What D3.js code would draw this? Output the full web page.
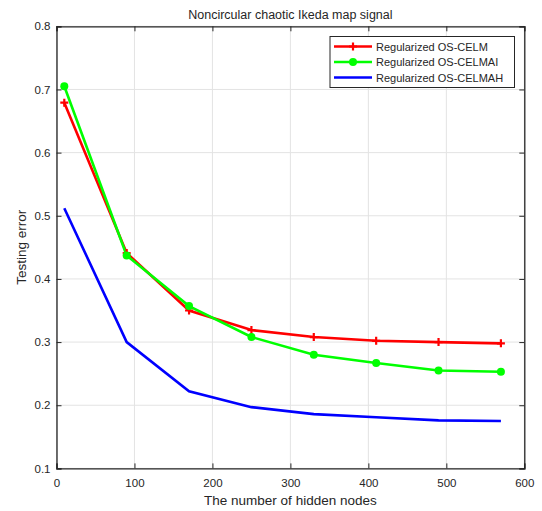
<!DOCTYPE html>
<html>
<head>
<meta charset="utf-8">
<script src="https://cdn.jsdelivr.net/npm/d3@7"></script>
<style>
  body { margin: 0; background: #fff; }
  text { font-family: Arial, "Liberation Sans", sans-serif; fill: #262626; }
</style>
</head>
<body>
<div id="chart"></div>
<script>
'use strict';

// Data
const hiddenNodes = [10, 90, 170, 250, 330, 410, 490, 570];
const celm   = [0.679, 0.441, 0.350, 0.319, 0.308, 0.302, 0.300, 0.298];
const celmai = [0.705, 0.437, 0.357, 0.308, 0.280, 0.267, 0.255, 0.253];
const celmah = [0.512, 0.300, 0.222, 0.197, 0.186, 0.181, 0.176, 0.175];
const seriesNames = ["Regularized OS-CELM", "Regularized OS-CELMAI", "Regularized OS-CELMAH"];
const xTicks = [0, 100, 200, 300, 400, 500, 600];
const yTicks = [0.1, 0.2, 0.3, 0.4, 0.5, 0.6, 0.7, 0.8];

const width = 542, height = 511;
const margin = {top: 26.3, left: 56.5, right: 17.7, bottom: 42.6};
const w = width - margin.left - margin.right;
const h = height - margin.top - margin.bottom;

const svg = d3.select("#chart").append("svg")
  .attr("width", width)
  .attr("height", height);
const g = svg.append("g")
  .attr("transform", `translate(${margin.left},${margin.top})`);

const x = d3.scaleLinear().domain([0, 600]).range([0, w]);
const y = d3.scaleLinear().domain([0.1, 0.8]).range([h, 0]);

// grid
g.append("g").selectAll("line").data(xTicks).join("line")
  .attr("x1", d => x(d)).attr("x2", d => x(d))
  .attr("y1", 0).attr("y2", h)
  .attr("stroke", "#e3e3e3").attr("stroke-width", 1);
g.append("g").selectAll("line").data(yTicks).join("line")
  .attr("y1", d => y(d)).attr("y2", d => y(d))
  .attr("x1", 0).attr("x2", w)
  .attr("stroke", "#e3e3e3").attr("stroke-width", 1);

// axes (ticks inward, box style)
const tickLen = 5;
const xAxis = g.append("g").attr("transform", `translate(0,${h})`)
  .call(d3.axisBottom(x).tickValues(xTicks).tickSize(-tickLen).tickPadding(10).tickFormat(d3.format("d")));
const xTop = g.append("g")
  .call(d3.axisTop(x).tickValues(xTicks).tickSize(-tickLen).tickFormat(""));
const yAxis = g.append("g")
  .call(d3.axisLeft(y).tickValues(yTicks).tickSize(-tickLen).tickPadding(6).tickFormat(d3.format(".1f")));
const yRight = g.append("g").attr("transform", `translate(${w},0)`)
  .call(d3.axisRight(y).tickValues(yTicks).tickSize(-tickLen).tickFormat(""));
[xAxis, xTop, yAxis, yRight].forEach(a => {
  a.select(".domain").attr("stroke", "#262626").attr("stroke-width", 1.3);
  a.selectAll(".tick line").attr("stroke", "#262626");
  a.selectAll(".tick text").style("font-size", "11.5px").attr("fill", "#262626")
    .style("font-family", "Arial, 'Liberation Sans', sans-serif");
});

// lines
const line = d3.line().x((d, i) => x(hiddenNodes[i])).y(d => y(d));
const colors = ["#ff0000", "#00ff00", "#0000ff"];
[celm, celmai, celmah].forEach((s, k) => {
  g.append("path").datum(s)
    .attr("fill", "none")
    .attr("stroke", colors[k])
    .attr("stroke-width", 2.6)
    .attr("d", line);
});

// markers
g.append("g").selectAll("path").data(celm).join("path")
  .attr("transform", (d, i) => `translate(${x(hiddenNodes[i])},${y(d)})`)
  .attr("d", "M-4,0H4M0,-4V4")
  .attr("stroke", colors[0]).attr("stroke-width", 2.2);
g.append("g").selectAll("circle").data(celmai).join("circle")
  .attr("cx", (d, i) => x(hiddenNodes[i]))
  .attr("cy", d => y(d))
  .attr("r", 4)
  .attr("fill", colors[1]);

// title & labels
svg.append("text")
  .attr("x", margin.left + w / 2).attr("y", 19)
  .attr("text-anchor", "middle")
  .style("font-size", "12.5px")
  .attr("fill", "#000")
  .text("Noncircular chaotic Ikeda map signal");
svg.append("text")
  .attr("x", margin.left + w / 2).attr("y", 505)
  .attr("text-anchor", "middle")
  .style("font-size", "13.5px")
  .text("The number of hidden nodes");
svg.append("text")
  .attr("transform", `translate(26,${margin.top + h / 2}) rotate(-90)`)
  .attr("text-anchor", "middle")
  .style("font-size", "13.5px")
  .text("Testing error");

// legend
const legend = svg.append("g").attr("transform", "translate(330,36.5)");
legend.append("rect")
  .attr("width", 184.5).attr("height", 51)
  .attr("fill", "#fff").attr("stroke", "#262626").attr("stroke-width", 1);
seriesNames.forEach((name, k) => {
  const ly = 10 + k * 15.5;
  legend.append("line")
    .attr("x1", 4).attr("x2", 42).attr("y1", ly).attr("y2", ly)
    .attr("stroke", colors[k]).attr("stroke-width", 2.6);
  if (k === 0) {
    legend.append("path").attr("d", `M23,${ly - 4}V${ly + 4}M19,${ly}H27`)
      .attr("stroke", colors[0]).attr("stroke-width", 2.2);
  } else if (k === 1) {
    legend.append("circle").attr("cx", 23).attr("cy", ly).attr("r", 4).attr("fill", colors[1]);
  }
  legend.append("text")
    .attr("x", 46).attr("y", ly + 4)
    .style("font-size", "11px")
    .attr("fill", "#000")
    .text(name);
});
</script>
</body>
</html>
